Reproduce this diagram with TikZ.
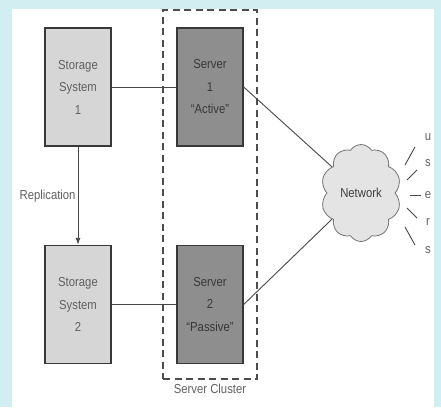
\documentclass[tikz,border=0pt]{standalone}
\usepackage{fontspec}
\setmainfont{Liberation Sans}[FakeStretch=0.87]
\usetikzlibrary{shapes.symbols, arrows.meta}

\definecolor{paneledge}{HTML}{D3EEF0}
\definecolor{storagefill}{HTML}{D6D6D6}
\definecolor{serverfill}{HTML}{8E8E8E}
\definecolor{cloudfill}{HTML}{E4E4E4}
\definecolor{inkgray}{HTML}{383838}

\tikzset{
    unitbox/.style={draw=inkgray, line width=1.4pt, minimum width=66pt, minimum height=118pt,
        inner sep=0pt, align=center, font=\fontsize{13}{22.5}\selectfont},
    storagebox/.style={unitbox, fill=storagefill, text=black!62},
    serverbox/.style={unitbox, fill=serverfill, text=black!78},
    wire/.style={draw=black!72, line width=0.9pt},
    txt/.style={font=\fontsize{13}{15}\selectfont, text=black!62}
}

\begin{document}
\begin{tikzpicture}[x=1pt, y=-1pt]
            % Define dimensions
            \def\storex{78}
            \def\servex{210}
            \def\rowa{87}
            \def\rowb{304.5}
            % Page with tinted edge
            \fill[paneledge] (0,0) rectangle (441,407);
            \fill[white] (12,9) rectangle (434,407);
            \useasboundingbox (0,0) rectangle (441,407);
            % Cluster outline
            \node[draw=black!70, line width=1.3pt, dash pattern=on 7pt off 4.5pt,
                minimum width=94pt, minimum height=369pt, inner sep=0pt] (cluster) at (\servex,194.5) {};
            \node[txt, below, inner sep=4pt] (clusterlabel) at (cluster.south) {Server Cluster};
            % Storage systems and servers
            \node[storagebox] (stor1) at (\storex,\rowa) {Storage\\System\\1};
            \node[storagebox] (stor2) at (\storex,\rowb) {Storage\\System\\2};
            \node[serverbox] (serv1) at (\servex,\rowa) {Server\\1\\``Active''};
            \node[serverbox] (serv2) at (\servex,\rowb) {Server\\2\\``Passive''};
            % Network cloud
            \node[cloud, cloud puffs=10, cloud puff arc=115, cloud ignores aspect,
                minimum width=80pt, minimum height=97pt, draw=black!55, line width=0.8pt,
                fill=cloudfill, txt, text=black!75] (net) at (361,193) {Network};
            % Links
            \draw[wire] (stor1) -- (serv1);
            \draw[wire] (stor2) -- (serv2);
            \draw[wire] (serv1.east) -- (net.138);
            \draw[wire] (serv2.east) -- (net.222);
            \draw[wire, -{Latex[length=7pt, width=5pt]}] (stor1) --
                node[txt, left, inner sep=2pt] (replabel) {Replication} (stor2);
            % Users fanning out of the cloud
            \foreach \ltr/\xa/\ya/\xb/\yb/\ly [count=\i] in
                {u/405/165/415/147/137, s/407/180/417/170/163, e/410/195/421/195/195,
                 r/407/208/417/218/222, s/405/227/415/245/250} {
                \coordinate (ray\i a) at (\xa,\ya);
                \coordinate (ray\i b) at (\xb,\yb);
                \node[txt] (user\i) at (428,\ly) {\ltr};
                \draw[wire] (ray\i a) -- (ray\i b);
            }
        \end{tikzpicture}
\end{document}
